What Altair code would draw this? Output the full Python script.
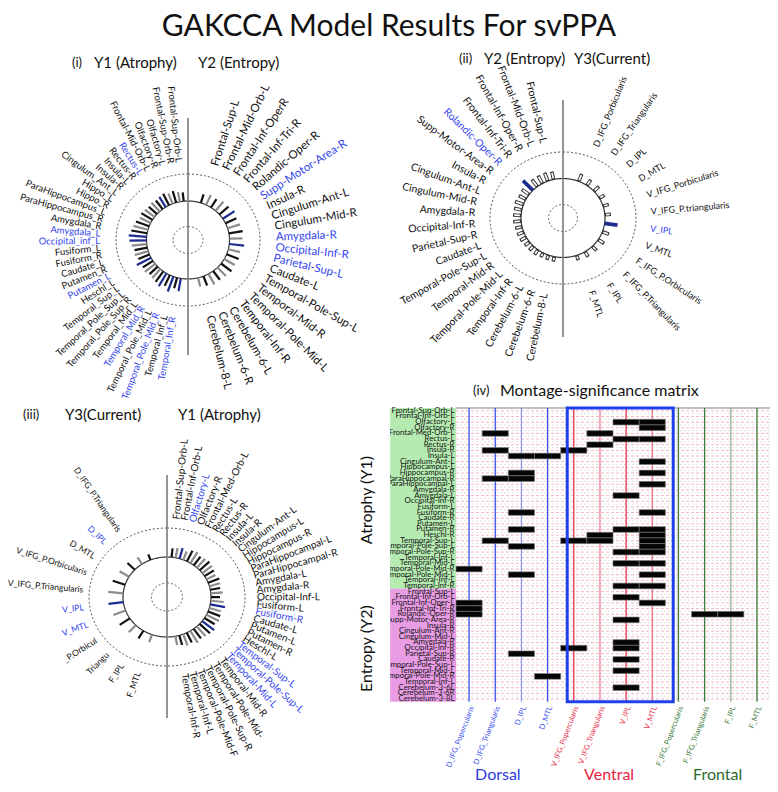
import math
import altair as alt
import pandas as pd

FONT = "Lato"
BLACK = "#111111"
GRAY = "#8c8c8c"
NAVY = "#1d2b8f"
BLUE_TXT = "#3446ee"

TITLE = "GAKCCA Model Results For svPPA"

# ---------------- panel (i): Y1 (Atrophy) | Y2 (Entropy) ----------------
P1_HEAD = ["(i)", "Y1 (Atrophy)", "Y2 (Entropy)"]
P1_LEFT = ["Frontal-Sup-Orb-L", "Frontal-Sup-Orb-R", "Olfactory-L", "Olfactory-R", "Frontal-Mid-Orb-L",
           "Rectus-L", "Rectus-R", "Insula-L", "Insula-R", "Cingulum_Ant_L", "Hippo_L", "Hippo_R",
           "ParaHippocampus_L", "ParaHippocampus_R", "Amygdala_R", "Amygdala_L", "Occipital_inf_L",
           "Fusiform_L", "Fusiform_R", "Caudate_L", "Putamen_R", "Putamen_L", "Heschl_L", "Temporal_Sup_L",
           "Temporal_Pole_Sup_L", "Temporal_Pole_Sup_R", "Temporal_Mid_L", "Temporal_Mid_R",
           "Temporal_Pole_Mid_L", "Temporal_Pole_Mid_R", "Temporal_Inf_L", "Temporal_Inf_R"]
P1_LEFT_BLUE = ["Rectus-L", "Amygdala_L", "Occipital_inf_L", "Putamen_L", "Temporal_Mid_R",
                "Temporal_Pole_Mid_R", "Temporal_Inf_R"]
P1_LEFT_LEN = [9, 10, 12, 11, 13, 12, 11, 12, 11, 12, 13, 12, 14, 15, 16, 18, 17, 15, 13, 14, 12, 16,
               12, 13, 11, 12, 13, 15, 12, 16, 11, 13]
P1_LEFT_BARBLUE = P1_LEFT_BLUE
P1_RIGHT = ["Frontal-Sup-L", "Frontal-Mid-Orb-L", "Frontal-Inf-OperR", "Frontal-Inf-Tri-R", "Rolandic-Oper-R",
            "Supp-Motor-Area-R", "Insula-R", "Cingulum-Ant-L", "Cingulum-Mid-R", "Amygdala-R",
            "Occipital-Inf-R", "Parietal-Sup-L", "Caudate-L", "Temporal-Pole-Sup-L", "Temporal-Mid-R",
            "Temporal-Pole-Mid-L", "Temporal-Inf-R", "Cerebelum-6-L", "Cerebelum-6-R", "Cerebelum-8-L"]
P1_RIGHT_BLUE = ["Supp-Motor-Area-R", "Amygdala-R", "Occipital-Inf-R", "Parietal-Sup-L"]
P1_RIGHT_LEN = [9, 11, 10, 12, 12, 14, 12, 13, 14, 13, 15, 12, 13, 12, 13, 12, 11, 12, 10, 9]
P1_RIGHT_BARBLUE = ["Supp-Motor-Area-R", "Occipital-Inf-R"]

# ---------------- panel (ii): Y2 (Entropy) | Y3 (Current) ----------------
P2_HEAD = ["(ii)", "Y2 (Entropy)", "Y3(Current)"]
P2_LEFT = ["Frontal-Sup-L", "Frontal-Mid-Orb-L", "Frontal-Inf-Oper-R", "Frontal-Inf-Tri-R", "Rolandic-Oper-R",
           "Supp-Motor-Area-R", "Insula-R", "Cingulum-Ant-L", "Cingulum-Mid-R", "Amygdala-R",
           "Occipital-Inf-R", "Parietal-Sup-R", "Caudate-L", "Temporal-Pole-Sup-L", "Temporal-Mid-R",
           "Temporal-Pole-Mid-L", "Temporal-Inf-R", "Cerebelum-6-L", "Cerebelum-6-R", "Cerebelum-8-L"]
P2_LEFT_BLUE = ["Rolandic-Oper-R"]
P2_LEFT_LEN = [8, 9, 9, 9, 14, 9, 8, 9, 8, 8, 8, 7, 7, 7, 6, 6, 6, 5, 5, 5]
P2_RIGHT = ["D_IFG_Porbicularis", "D_IFG_Triangularis", "D_IPL", "D_MTL", "V_IFG_Porbicularis",
            "V_IFG_P.triangularis", "V_IPL", "V_MTL", "F_IFG_P.Orbicularis", "F_IFG_P.Triangularis",
            "F_IPL", "F_MTL"]
P2_RIGHT_BLUE = ["V_IPL"]
P2_RIGHT_LEN = [8, 7, 7, 6, 6, 6, 13, 7, 7, 6, 6, 5]

# ---------------- panel (iii): Y3 (Current) | Y1 (Atrophy) ----------------
P3_HEAD = ["(iii)", "Y3(Current)", "Y1 (Atrophy)"]
P3_LEFT = ["", "D_IFG_P.Triangularis", "D_IPL", "D_MTL", "V_IFG_P.Orbicularis", "V_IFG_P.Triangularis",
           "V_IPL", "V_MTL", "_P.Orbicul", "Triangu", "F_IPL", "F_MTL"]
P3_LEFT_BLUE = ["D_IPL", "V_IPL", "V_MTL"]
P3_LEFT_LEN = [6, 8, 10, 11, 13, 15, 15, 13, 12, 10, 9, 8]
P3_LEFT_BARBLUE = ["V_IPL"]
P3_RIGHT = ["Frontal-Sup-Orb-L", "Frontal-Inf-Orb-L", "Olfactory-L", "Olfactory-R", "Frontal-Med-Orb-L",
            "Rectus-L", "Rectus-R", "Insula-L", "Insula-R", "Cingulum-Ant-L", "Hippocampus-L",
            "Hippocampus-R", "ParaHippocampal-L", "ParaHippocampal-R", "Amygdala-L", "Amygdala-R",
            "Occipital-Inf-L", "Fusiform-L", "Fusiform-R", "Caudate-L", "Putamen-L", "Putamen-R",
            "Heschl-L", "Temporal-Sup-L", "Temporal-Pole-Sup-L", "Temporal-Mid-L", "Temporal-Mid-R",
            "Temporal-Pole-Mid-", "Temporal-Pole-Sup-R", "Temporal-Pole-Mid-F", "Temporal-Inf-L",
            "Temporal-Inf-R"]
P3_RIGHT_BLUE = ["Olfactory-L", "Fusiform-R", "Temporal-Sup-L", "Temporal-Pole-Sup-L", "Temporal-Mid-L"]
P3_RIGHT_LEN = [9, 10, 11, 9, 12, 13, 11, 12, 13, 12, 11, 10, 12, 11, 10, 12, 9, 13, 15, 12, 13, 14,
                12, 15, 14, 13, 12, 14, 11, 12, 10, 9]
P3_RIGHT_BARBLUE = ["Olfactory-L", "Fusiform-R", "Temporal-Sup-L"]

# ---------------- panel (iv): montage-significance matrix ----------------
P4_TITLE = ["(iv)", "Montage-significance matrix"]
ROWS_ATROPHY = ["Frontal-Sup-Orb-L", "Frontal-Inf-Orb-L", "Olfactory-L", "Olfactory-R", "Frontal-Med-Orb-L",
                "Rectus-L", "Rectus-R", "Insula-R", "Insula-L", "Cingulum-Ant-L", "Hippocampus-L",
                "Hippocampus-R", "ParaHippocampal-R", "ParaHippocampal-L", "Amygdala-R", "Amygdala-L",
                "Occipital-Inf-R", "Fusiform-L", "Fusiform-R", "Caudate-R", "Putamen-L", "Putamen-R",
                "Heschl-R", "Temporal-Sup-L", "Temporal-Pole-Sup-L", "Temporal-Pole-Sup-R", "Temporal-Inf-L",
                "Temporal-Mid-L", "Temporal-Pole-Mid-R", "Temporal-Pole-Mid-L", "Temporal-Inf-L",
                "Temporal-Inf-R"]
ROWS_ENTROPY = ["Frontal-Sup-L", "Frontal-Inf-Orb-L", "Frontal-Inf-Oper-L", "Frontal-Inf-Tri-R",
                "Rolandic-Oper-R", "Supp-Motor-Area-R", "Insula-R", "Cingulum-Ant-R", "Cingulum-Mid-L",
                "Amygdala-R", "Occipital-Inf-R", "Parietal-Sup-R", "Caudate-R", "Temporal-Pole-Sup-L",
                "Temporal-Mid-L", "Temporal-Pole-Mid-R", "Temporal-Inf-L", "Cerebelum-3-6L",
                "Cerebelum-3-6R", "Cerebelum-3-8L"]
COLUMNS = ["D_IFG_Popercularis", "D_IFG_Triangularis", "D_IPL", "D_MTL", "V_IFG_Popercularis",
           "V_IFG_Triangularis", "V_IPL", "V_MTL", "F_IFG_Popercularis", "F_IFG_Triangularis", "F_IPL", "F_MTL"]
COLUMN_GROUP = ["D", "D", "D", "D", "V", "V", "V", "V", "F", "F", "F", "F"]
GROUPS = ["Dorsal", "Ventral", "Frontal"]
# significant columns for every row (atrophy rows then entropy rows)
SIG_ATROPHY = [[], [], [6, 7], [7], [1, 5], [6, 7], [5], [1, 4], [2, 3], [7], [], [2, 7], [1, 2], [7], [],
               [6], [], [], [2, 7], [], [], [2, 6, 7], [5, 7], [1, 4, 5, 7], [2, 7], [6, 7], [], [6, 7],
               [0], [2, 7], [], [6, 7]]
SIG_ENTROPY = [[], [6], [0, 7], [0], [0, 9, 10], [6], [], [], [], [6], [4, 6], [2], [6], [], [6], [3], [],
               [6], [], []]

# ---------------- style ----------------
GROUP_COLOR = {"D": "#3a4ff0", "V": "#e8304e", "F": "#3b7a3b"}
GROUP_LABEL_COLOR = {"Dorsal": "#2b3be0", "Ventral": "#e8233f", "Frontal": "#2d6a2d"}
LINE_OPACITY = [1, 1, 0.55, 1, 1, 0.6, 1, 0.65, 1, 1, 0.55, 1]

WIDTH, HEIGHT = 762, 776
XS = alt.Scale(domain=[0, WIDTH], nice=False, zero=False)
YS = alt.Scale(domain=[0, HEIGHT], nice=False, zero=False, reverse=True)


def X(f):
    return alt.X(f, type="quantitative", scale=XS, axis=None)


def Y(f):
    return alt.Y(f, type="quantitative", scale=YS, axis=None)


def ellipse(cx, cy, rx, ry, n=160):
    k = list(range(n + 1))
    return pd.DataFrame({"i": k,
                         "x": [cx + rx * math.sin(2 * math.pi * j / n) for j in k],
                         "y": [cy - ry * math.cos(2 * math.pi * j / n) for j in k]})


def side(names, lab_blue, lens, bar_blue, a0, a1, right, g, fs, lab):
    n = len(names)
    labs, bars = [], []
    cx, cy = g["c"]
    rx, ry = g["inner"]
    lx, ly = lab
    for i, name in enumerate(names):
        a = a0 + (a1 - a0) * i / (n - 1)
        th = a if right else 360 - a
        t = math.radians(th)
        sx, sy = math.sin(t), -math.cos(t)
        x0, y0 = cx + rx * sx, cy + ry * sy
        L = lens[i]
        isb = name in bar_blue
        bars.append(dict(x=x0, y=y0, x2=x0 + L * sx, y2=y0 + L * sy,
                         xi=x0 + 1.2 * sx, yi=y0 + 1.2 * sy,
                         xi2=x0 + (L - 1.2) * sx, yi2=y0 + (L - 1.2) * sy,
                         color=NAVY if isb else (BLACK if i % 2 == 0 else GRAY),
                         hcolor=NAVY if isb else "#333333", blue=isb))
        ang = (th - 90) % 360 if right else (90 - a) % 360
        labs.append(dict(x=cx + lx * sx, y=cy + ly * sy, text=name, angle=ang,
                         color=BLUE_TXT if name in lab_blue else BLACK, fs=fs))
    return pd.DataFrame(labs), pd.DataFrame(bars)


def radial_layers(g, left, right, hollow=False):
    ox, oy = g["o"]
    cx, cy = ox + g["c"][0], oy + g["c"][1]
    gg = dict(g, c=(cx, cy))
    ll, lb = side(*left, right=False, g=gg, fs=g["fsl"], lab=g.get("labl", g["lab"]))
    rl, rb = side(*right, right=True, g=gg, fs=g["fsr"], lab=g["lab"])
    bars = pd.concat([lb, rb], ignore_index=True)

    layers = []
    for key, dash, col, sw in [("core", [2, 2], "#444", 0.9), ("outer", [2, 2], "#444", 0.9),
                               ("inner", [1, 0], "#333", 1.2)]:
        rx, ry = g[key]
        layers.append(alt.Chart(ellipse(cx, cy, rx, ry)).mark_line(
            strokeDash=dash, color=col, strokeWidth=sw).encode(x=X("x"), y=Y("y"), order="i:Q"))
    vl = pd.DataFrame({"x": [cx], "y": [oy + g["vline"][0]], "y2": [oy + g["vline"][1]]})
    layers.append(alt.Chart(vl).mark_rule(color="#7a7a7a", strokeWidth=1.6).encode(
        x=X("x"), y=Y("y"), y2="y2"))
    if hollow:
        layers.append(alt.Chart(bars).mark_rule(strokeWidth=3.6, strokeCap="butt").encode(
            x=X("x"), y=Y("y"), x2="x2", y2="y2", color=alt.Color("hcolor:N", scale=None)))
        layers.append(alt.Chart(bars[~bars["blue"]]).mark_rule(
            strokeWidth=1.7, strokeCap="butt", color="white").encode(
            x=X("xi"), y=Y("yi"), x2="xi2", y2="yi2"))
    else:
        layers.append(alt.Chart(bars).mark_rule(strokeWidth=2.2, strokeCap="butt").encode(
            x=X("x"), y=Y("y"), x2="x2", y2="y2", color=alt.Color("color:N", scale=None)))
    for df, al in [(ll, "right"), (rl, "left")]:
        layers.append(alt.Chart(df).mark_text(align=al, baseline="middle", font=FONT).encode(
            x=X("x"), y=Y("y"), text="text:N",
            angle=alt.Angle("angle:Q", scale=None),
            color=alt.Color("color:N", scale=None),
            size=alt.Size("fs:Q", scale=None)))
    head = pd.DataFrame({"text": g["head"], "x": [ox + v for v in g["headx"]],
                         "y": [oy + g["heady"]] * 3, "fs": [13, 15, 15]})
    layers.append(alt.Chart(head).mark_text(align="left", baseline="middle", font=FONT,
                                            color="#111").encode(
        x=X("x"), y=Y("y"), text="text:N", size=alt.Size("fs:Q", scale=None)))
    return layers


G1 = dict(o=(0, 37), c=(180, 195), inner=(41.5, 39), outer=(72, 66), core=(15, 13.5), lab=(88, 78),
          vline=(73, 310), head=P1_HEAD, headx=[64, 86, 190], heady=17.5, fsl=9.5, fsr=11.5)
G2 = dict(o=(382, 37), c=(173, 173), inner=(42, 39.5), outer=(73, 66), core=(14.5, 13.5), lab=(88, 77),
          vline=(55, 292), head=P2_HEAD, headx=[69, 94, 184], heady=14, fsl=10.5, fsr=9)
G3 = dict(o=(0, 372), c=(159, 217), inner=(44, 40), outer=(78, 69), core=(15.5, 14), lab=(90, 78),
          labl=(84, 80), vline=(95, 338), head=P3_HEAD, headx=[15, 57, 170], heady=35, fsl=8.6, fsr=10)

layers = []
layers += radial_layers(G1, (P1_LEFT, P1_LEFT_BLUE, P1_LEFT_LEN, P1_LEFT_BARBLUE, 6, 170),
                        (P1_RIGHT, P1_RIGHT_BLUE, P1_RIGHT_LEN, P1_RIGHT_BARBLUE, 18, 166))
layers += radial_layers(G2, (P2_LEFT, P2_LEFT_BLUE, P2_LEFT_LEN, P2_LEFT_BLUE, 13, 168),
                        (P2_RIGHT, P2_RIGHT_BLUE, P2_RIGHT_LEN, P2_RIGHT_BLUE, 22, 161), hollow=True)
layers += radial_layers(G3, (P3_LEFT, P3_LEFT_BLUE, P3_LEFT_LEN, P3_LEFT_BARBLUE, 22, 160),
                        (P3_RIGHT, P3_RIGHT_BLUE, P3_RIGHT_LEN, P3_RIGHT_BARBLUE, 6, 169))

# ---------------- matrix panel ----------------
M_OX, M_OY = 347 + 101, 372 + 28      # matrix top-left corner
CW, RH = 26.17, 5.65                  # column width, row height


def px(c):
    return M_OX + CW * (c + 0.5)


def py(r):
    return M_OY + RH * (r + 0.5)


row_names = ROWS_ATROPHY + ROWS_ENTROPY
sig = SIG_ATROPHY + SIG_ENTROPY
nA, nR, nC = len(ROWS_ATROPHY), len(row_names), len(COLUMNS)

blocks = pd.DataFrame({"x": [px(-3.02)] * 2, "x2": [px(-0.5)] * 2, "y": [py(-0.5), py(nA - 0.5)],
                       "y2": [py(nA - 0.5), py(nR - 0.5)], "color": ["#b5ebb0", "#e89ce4"]})
rowdf = pd.DataFrame({"x": px(-0.5) - 1.5, "y": [py(r) for r in range(nR)], "text": row_names})
rowlines = pd.DataFrame({"y": [py(r) for r in range(nR)], "x": px(-0.5), "x2": px(nC - 0.5)})
rowlines2 = pd.DataFrame({"y": [py(r + 0.5) for r in range(nR - 1)], "x": px(-0.5), "x2": px(nC - 0.5)})
toprule = pd.DataFrame({"y": [py(-0.5)], "x": [px(-0.5)], "x2": [px(nC - 0.5)]})
coldf = pd.DataFrame({"x": [px(c) for c in range(nC)], "lx": [px(c) + 3 for c in range(nC)],
                      "text": COLUMNS,
                      "color": [GROUP_COLOR[g] for g in COLUMN_GROUP], "op": LINE_OPACITY,
                      "y": py(-0.5), "y2": py(nR - 0.5), "ly": py(nR - 0.5) + 5})
cells = pd.DataFrame([{"x": px(c - 0.5), "x2": px(c + 0.5), "y": py(r - 0.5), "y2": py(r + 0.5)}
                      for r, cs in enumerate(sig) for c in cs])
box = pd.DataFrame({"x": [px(3.75)], "x2": [px(7.8)], "y": [py(-0.5)], "y2": [py(nR - 0.5)]})
mask = pd.DataFrame({"x": [px(-3.62)], "x2": [px(-3.02)], "y": [py(-1.5)], "y2": [py(nR - 0.5)]})
ylab = pd.DataFrame({"text": ["Atrophy (Y1)", "Entropy (Y2)"], "x": [px(-3.9)] * 2,
                     "y": [py(15.8), py(42.1)]})
glab = pd.DataFrame({"text": GROUPS, "x": [px(1.1), px(5.35), px(9.5)], "y": [HEIGHT - 9] * 3,
                     "color": [GROUP_LABEL_COLOR[g] for g in GROUPS]})
head4 = pd.DataFrame({"text": P4_TITLE, "x": [px(0.15), px(1.18)], "y": [py(-3.5)] * 2, "fs": [13, 16]})

layers += [
    alt.Chart(blocks).mark_rect().encode(x=X("x"), x2="x2", y=Y("y"), y2="y2",
                                         color=alt.Color("color:N", scale=None)),
    alt.Chart(rowlines2).mark_rule(color="#cfcfcf", strokeWidth=0.6, strokeDash=[2, 2]).encode(
        x=X("x"), x2="x2", y=Y("y")),
    alt.Chart(rowlines).mark_rule(color="#e59aa6", strokeWidth=0.7, strokeDash=[3, 2]).encode(
        x=X("x"), x2="x2", y=Y("y")),
    alt.Chart(toprule).mark_rule(color="#a8a8a8", strokeWidth=1.6).encode(x=X("x"), x2="x2", y=Y("y")),
    alt.Chart(coldf).mark_rule(strokeWidth=1.3).encode(
        x=X("x"), y=Y("y"), y2="y2", color=alt.Color("color:N", scale=None),
        opacity=alt.Opacity("op:Q", scale=None)),
    alt.Chart(cells).mark_rect(color="#050505", stroke="#7a7a7a", strokeWidth=0.6).encode(
        x=X("x"), x2="x2", y=Y("y"), y2="y2"),
    alt.Chart(box).mark_rect(fillOpacity=0, stroke="#2040ee", strokeWidth=3).encode(
        x=X("x"), x2="x2", y=Y("y"), y2="y2"),
    alt.Chart(rowdf).mark_text(align="right", baseline="middle", font=FONT, fontSize=7.8,
                               color="#161616").encode(x=X("x"), y=Y("y"), text="text:N"),
    alt.Chart(mask).mark_rect(color="white").encode(x=X("x"), x2="x2", y=Y("y"), y2="y2"),
    alt.Chart(ylab).mark_text(angle=270, align="center", baseline="middle", font=FONT, fontSize=16,
                              color="#111").encode(x=X("x"), y=Y("y"), text="text:N"),
    alt.Chart(coldf).mark_text(angle=291, align="right", baseline="middle", font=FONT,
                               fontSize=7.5).encode(
        x=X("lx"), y=Y("ly"), text="text:N", color=alt.Color("color:N", scale=None)),
    alt.Chart(glab).mark_text(align="center", baseline="middle", font=FONT, fontSize=16).encode(
        x=X("x"), y=Y("y"), text="text:N", color=alt.Color("color:N", scale=None)),
    alt.Chart(head4).mark_text(align="left", baseline="middle", font=FONT, color="#111").encode(
        x=X("x"), y=Y("y"), text="text:N", size=alt.Size("fs:Q", scale=None)),
]

title_df = pd.DataFrame({"text": [TITLE], "x": [WIDTH / 2], "y": [19]})
layers.append(alt.Chart(title_df).mark_text(align="center", baseline="middle", font=FONT, fontSize=30,
                                            color="#111").encode(x=X("x"), y=Y("y"), text="text:N"))

chart = alt.layer(*layers).properties(
    width=WIDTH, height=HEIGHT, padding=0, autosize=alt.AutoSizeParams(type="none"),
).configure_view(strokeWidth=0)

chart.save("out.html", embed_options={"renderer": "svg", "actions": False})
